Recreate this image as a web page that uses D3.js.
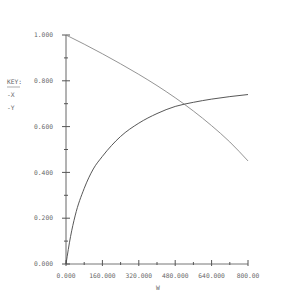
<!DOCTYPE html>
<html>
<head>
<meta charset="utf-8">
<script src="https://cdn.jsdelivr.net/npm/d3@7"></script>
<style>
  html, body { margin: 0; padding: 0; background: #fff; }
  svg { display: block; }
  .lbl { font-family: "DejaVu Sans Mono", monospace; font-size: 6.3px; fill: #666; }
</style>
</head>
<body>
<svg id="chart" width="300" height="300"></svg>
<script>
// values
const wX = [0, 80, 160, 240, 320, 400, 480, 560, 640, 720, 800];
const xSeries = [1.0, 0.960, 0.918, 0.874, 0.828, 0.779, 0.726, 0.668, 0.604, 0.533, 0.450];
const wY = [0, 20, 40, 80, 120, 160, 240, 320, 400, 480, 560, 640, 720, 800];
const ySeries = [0.0, 0.12, 0.21, 0.33, 0.415, 0.47, 0.557, 0.615, 0.657, 0.688, 0.706, 0.72, 0.731, 0.74];
const xTickLabels = ['0.000', '160.000', '320.000', '480.000', '640.000', '800.00'];
const yTickLabels = ['0.000', '0.200', '0.400', '0.600', '0.800', '1.000'];
const keyLabels = ['-X', '-Y'];

const svg = d3.select('#chart');
const x = d3.scaleLinear().domain([0, 800]).range([66, 248]);
const y = d3.scaleLinear().domain([0, 1]).range([264, 35]);

const g = svg.append('g');

// axes (plotter style, ticks cross the line)
g.append('line').attr('x1', x(0)).attr('x2', x(0)).attr('y1', y(0)).attr('y2', y(1))
  .attr('stroke', '#666').attr('stroke-width', 1);
g.append('line').attr('x1', x(0)).attr('x2', x(800)).attr('y1', y(0)).attr('y2', y(0))
  .attr('stroke', '#777').attr('stroke-width', 1);

d3.range(0, 1.0001, 0.1).forEach((v, i) => {
  const len = i % 2 === 0 ? 4 : 2;
  g.append('line').attr('x1', x(0) - len).attr('x2', x(0) + len)
    .attr('y1', y(v)).attr('y2', y(v)).attr('stroke', '#555');
});
d3.range(0, 800.1, 80).forEach((v, i) => {
  const len = i % 2 === 0 ? 4 : 2;
  g.append('line').attr('x1', x(v)).attr('x2', x(v))
    .attr('y1', y(0) - len).attr('y2', y(0) + (i % 2 === 0 ? 2 : 1)).attr('stroke', '#555');
});

yTickLabels.forEach((t, i) => {
  g.append('text').attr('class', 'lbl').attr('x', 53).attr('y', y(i * 0.2))
    .attr('dy', '0.35em').attr('text-anchor', 'end').text(t);
});
xTickLabels.forEach((t, i) => {
  g.append('text').attr('class', 'lbl').attr('x', x(i * 160)).attr('y', 276)
    .attr('dy', '0.35em').attr('text-anchor', 'middle').text(t);
});
g.append('text').attr('class', 'lbl').attr('x', 158).attr('y', 288)
  .attr('dy', '0.35em').attr('text-anchor', 'middle').text('W');

// key
g.append('text').attr('class', 'lbl').attr('x', 7).attr('y', 82).attr('dy', '0.35em').text('KEY:');
g.append('line').attr('x1', 7).attr('x2', 20).attr('y1', 87).attr('y2', 87).attr('stroke', '#777').attr('stroke-width', 0.6);
keyLabels.forEach((t, i) => {
  g.append('text').attr('class', 'lbl').attr('x', 7).attr('y', 95 + i * 13).attr('dy', '0.35em').text(t);
});

const line = (ws, vals) => d3.line().x((d, i) => x(ws[i])).y(d => y(d)).curve(d3.curveMonotoneX)(vals);
g.append('path').attr('d', line(wX, xSeries)).attr('fill', 'none').attr('stroke', '#888').attr('stroke-width', 0.9);
g.append('path').attr('d', line(wY, ySeries)).attr('fill', 'none').attr('stroke', '#444').attr('stroke-width', 0.9);
</script>
</body>
</html>
